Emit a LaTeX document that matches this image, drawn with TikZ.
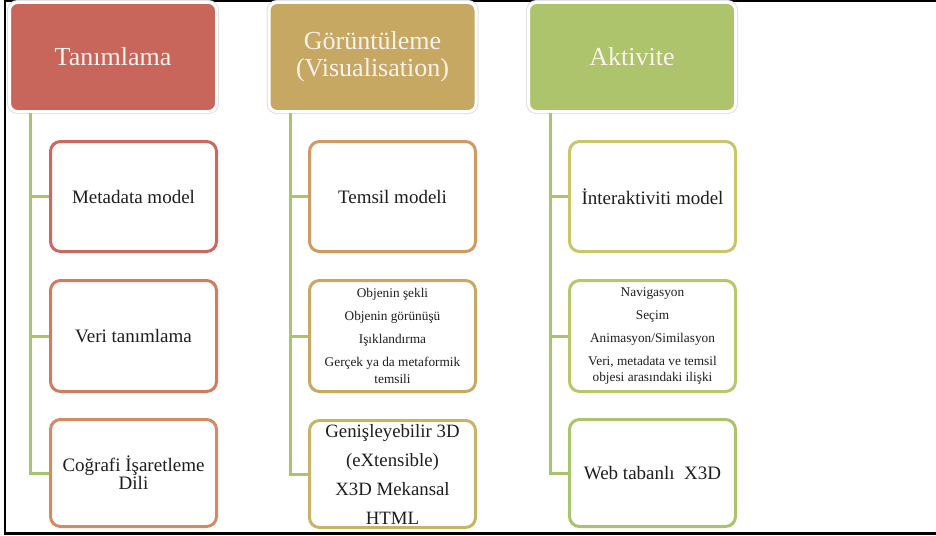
\documentclass[tikz,border=0pt]{standalone}
\usepackage{fontspec}
\setmainfont{Liberation Serif}
\definecolor{hA}{HTML}{C9665C}
\definecolor{hB}{HTML}{C6A862}
\definecolor{hC}{HTML}{ADC36C}
\definecolor{bA1}{HTML}{CF675E}
\definecolor{bA2}{HTML}{D27B60}
\definecolor{bA3}{HTML}{D58A64}
\definecolor{bB1}{HTML}{D19A62}
\definecolor{bB2}{HTML}{C9A862}
\definecolor{bB3}{HTML}{C8B466}
\definecolor{bC1}{HTML}{C9C66A}
\definecolor{bC2}{HTML}{B9C66A}
\definecolor{bC3}{HTML}{A9C46A}
\definecolor{connc}{HTML}{A9C46A}
\definecolor{txt}{HTML}{1E1E1E}
\definecolor{htxt}{HTML}{FBF2EE}
\tikzset{
  header/.style={rectangle, rounded corners=8pt, fill=#1, draw=white, line width=3pt,
    preaction={draw=black!12, line width=5pt},
    minimum width=207pt, minimum height=109pt, inner sep=0pt, align=center,
    text=htxt, font=\fontsize{26}{27}\selectfont},
  childbox/.style={rectangle, rounded corners=10pt, fill=white, draw=#1, line width=3pt,
    minimum width=166pt, inner sep=0pt, align=center, text=txt,
    font=\fontsize{19}{22}\selectfont},
  conn/.style={draw=connc, line width=3pt},
  frameline/.style={draw=black}
}
\begin{document}
\begin{tikzpicture}[x=1pt,y=-1pt]
\useasboundingbox (0,0) rectangle (936,535);
% frame
\draw[frameline, line width=1.6pt] (3.6,0.8) -- (936,0.8);
\draw[frameline, line width=2.4pt] (4.8,0) -- (4.8,535);
\draw[frameline, line width=3pt] (3.6,533.5) -- (936,533.5);
% headers
\node[header=hA] (h1) at (113,57) {Tanımlama};
\node[header=hB] (h2) at (372.5,57) {Görüntüleme\\(Visualisation)};
\node[header=hC] (h3) at (632,57) {Aktivite};
% column 1
\node[childbox=bA1, minimum height=110pt] (c11) at (133.5,196.5) {Metadata model};
\node[childbox=bA2, minimum height=111pt] (c12) at (133.5,336) {Veri tanımlama};
\node[childbox=bA3, minimum height=107pt, font=\fontsize{19}{18}\selectfont] (c13) at (133.5,473) {Coğrafi İşaretleme\\Dili};
% column 2
\node[childbox=bB1, minimum height=110pt] (c21) at (392.5,196.5) {Temsil modeli};
\node[childbox=bB2, minimum height=111pt, font=\fontsize{13.3}{16.5}\selectfont] (c22) at (392.5,336)
  {Objenin şekli\\[6.5pt]Objenin görünüşü\\[6.5pt]Işıklandırma\\[6.5pt]Gerçek ya da metaformik\\temsili};
\node[childbox=bB3, minimum height=107pt, font=\fontsize{18.8}{29}\selectfont] (c23) at (392.5,474)
  {Genişleyebilir 3D\\(eXtensible)\\X3D Mekansal\\HTML};
% column 3
\node[childbox=bC1, minimum height=110pt] (c31) at (652.5,196.5) {İnteraktiviti model};
\node[childbox=bC2, minimum height=111pt, font=\fontsize{13.3}{16.5}\selectfont] (c32) at (652.5,336)
  {Navigasyon\\[6.5pt]Seçim\\[6.5pt]Animasyon/Similasyon\\[6.5pt]Veri, metadata ve temsil\\objesi arasındaki ilişki};
\node[childbox=bC3, minimum height=107pt] (c33) at (652.5,473) {Web tabanlı~~X3D};
% connectors
\coordinate (v1) at (30,0);
\coordinate (v2) at (290,0);
\coordinate (v3) at (550,0);
\draw[conn] (v1 |- h1.south) -- (v1 |- c13.west) -- (c13.west);
\draw[conn] (v1 |- c11.west) -- (c11.west);
\draw[conn] (v1 |- c12.west) -- (c12.west);
\draw[conn] (v2 |- h2.south) -- (v2 |- c23.west) -- (c23.west);
\draw[conn] (v2 |- c21.west) -- (c21.west);
\draw[conn] (v2 |- c22.west) -- (c22.west);
\draw[conn] (v3 |- h3.south) -- (v3 |- c33.west) -- (c33.west);
\draw[conn] (v3 |- c31.west) -- (c31.west);
\draw[conn] (v3 |- c32.west) -- (c32.west);
\end{tikzpicture}
\end{document}
